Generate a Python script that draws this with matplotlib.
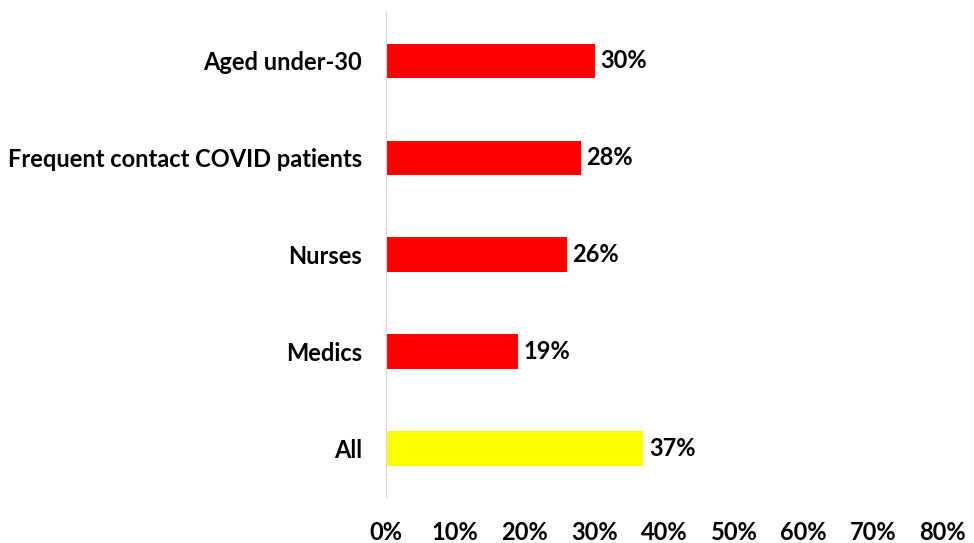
import matplotlib.pyplot as plt
from matplotlib.ticker import PercentFormatter

# data (top to bottom in the picture)
categories = ['Aged under-30', 'Frequent contact COVID patients', 'Nurses', 'Medics', 'All']
values = [30, 28, 26, 19, 37]
colors = ['#ff0000', '#ff0000', '#ff0000', '#ff0000', '#ffff00']
xticks = [0, 10, 20, 30, 40, 50, 60, 70, 80]

plt.rcParams['font.family'] = ['Lato', 'DejaVu Sans']
plt.rcParams['font.weight'] = 'bold'

fig = plt.figure(figsize=(9.74, 5.43), dpi=100)
ax = fig.add_axes([0.396, 0.084, 0.572, 0.893])

y = list(range(len(categories)))
ax.barh(y, values, height=0.36, color=colors)
ax.set_ylim(len(categories) - 0.5, -0.5)
ax.set_xlim(0, 80)

ax.set_yticks(y)
ax.set_yticklabels(categories, fontsize=17, fontweight='bold')
ax.set_xticks(xticks)
ax.xaxis.set_major_formatter(PercentFormatter(decimals=0))
for lab in ax.get_xticklabels():
    lab.set_fontweight('bold')
    lab.set_fontsize(17)
ax.tick_params(axis='both', length=0)
ax.tick_params(axis='x', pad=17)
ax.tick_params(axis='y', pad=17)

for i, v in enumerate(values):
    ax.text(v + 0.8, i, f'{v}%', va='center', ha='left', fontsize=17, fontweight='bold')

for s in ['top', 'right', 'bottom']:
    ax.spines[s].set_visible(False)
ax.spines['left'].set_color('#d9d9d9')

fig.savefig('out.png', dpi=100)
